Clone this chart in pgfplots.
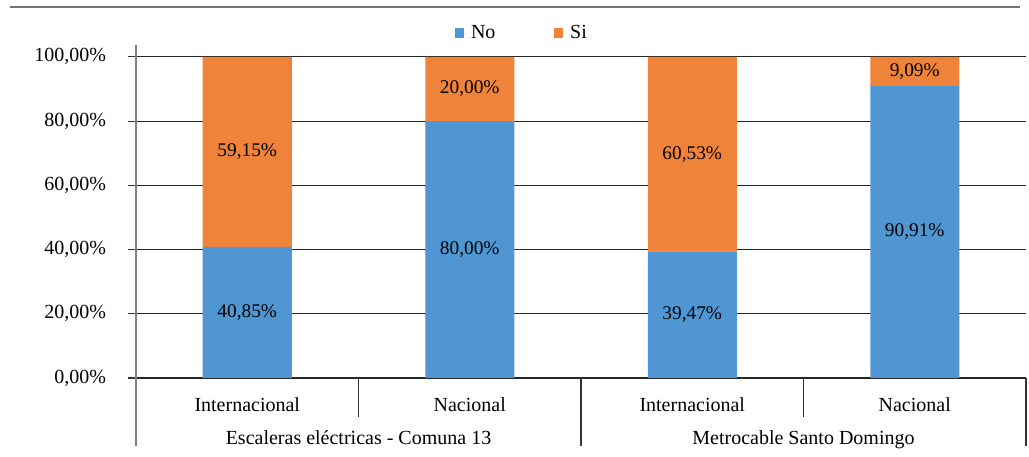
\documentclass[border=0pt]{standalone}
\usepackage{pgfplots}
\pgfplotsset{compat=1.18}
\usepackage{fontspec}
\setmainfont{Liberation Serif}
\definecolor{cblue}{HTML}{4F96D2}
\definecolor{corange}{HTML}{F0833A}
\begin{document}
\begin{tikzpicture}
\useasboundingbox (0,0) rectangle (771.75pt,342.75pt);
\draw[black!55, line width=1.5pt] (7.5pt,337.5pt) -- (765pt,337.5pt);
\begin{axis}[
  at={(102pt,59.25pt)}, anchor=south west,
  scale only axis, width=667.5pt, height=249.75pt,
  ybar stacked, bar width=66.75pt,
  xmin=-0.5, xmax=3.5, ymin=0, ymax=103.7,
  xtick=\empty,
  ytick={0,20,40,60,80,100},
  yticklabels={{0,00\%},{20,00\%},{40,00\%},{60,00\%},{80,00\%},{100,00\%}},
  yticklabel style={xshift=-13pt},
  axis x line=none, axis y line*=left,
  y axis line style={black!50, line width=1pt, -},
  tick align=outside, major tick length=6pt,
  ytick style={black!80, line width=0.8pt},
  ymajorgrids, grid style={black!85, line width=0.8pt},
  font=\fontsize{15}{18}\selectfont,
  clip=false,
  legend style={at={(0.434,1.036)}, anchor=center, draw=none, fill=none,
    legend columns=2, font=\fontsize{15}{18}\selectfont,
    /tikz/every even column/.append style={column sep=42pt}},
  legend image code/.code={\fill[#1] (0pt,-3.5pt) rectangle (7pt,3.5pt); \path (0pt,0pt) -- (10pt,0pt);},
  visualization depends on=rawy \as \rawy,
  nodes near coords={\pgfmathprintnumber[fixed,fixed zerofill,precision=2,use comma,assume math mode=true]{\rawy}\%},
  every node near coord/.append style={font=\fontsize{14.5}{17}\selectfont, text=black, anchor=center},
]
\addplot[fill=cblue, draw=none] coordinates {(0,40.85) (1,80) (2,39.47) (3,90.91)};
\addplot[fill=corange, draw=none] coordinates {(0,59.15) (1,20) (2,60.53) (3,9.09)};
\legend{No,Si}
\draw[black!50, line width=1pt] (axis cs:-0.5,0) -- (axis cs:-0.5,-21.2);
\draw[black!80, line width=0.8pt] (axis cs:0.5,0) -- (axis cs:0.5,-12.2);
\draw[black!80, line width=0.8pt] (axis cs:1.5,0) -- (axis cs:1.5,-21.2);
\draw[black!80, line width=0.8pt] (axis cs:2.5,0) -- (axis cs:2.5,-12.2);
\draw[black!80, line width=0.8pt] (axis cs:3.5,0) -- (axis cs:3.5,-21.2);
\node[anchor=base] at (axis cs:0,-10.3) {Internacional};
\node[anchor=base] at (axis cs:1,-10.3) {Nacional};
\node[anchor=base] at (axis cs:2,-10.3) {Internacional};
\node[anchor=base] at (axis cs:3,-10.3) {Nacional};
\node[anchor=base] at (axis cs:0.5,-20.6) {Escaleras eléctricas - Comuna 13};
\node[anchor=base] at (axis cs:2.5,-20.6) {Metrocable Santo Domingo};
\end{axis}
\end{tikzpicture}
\end{document}
